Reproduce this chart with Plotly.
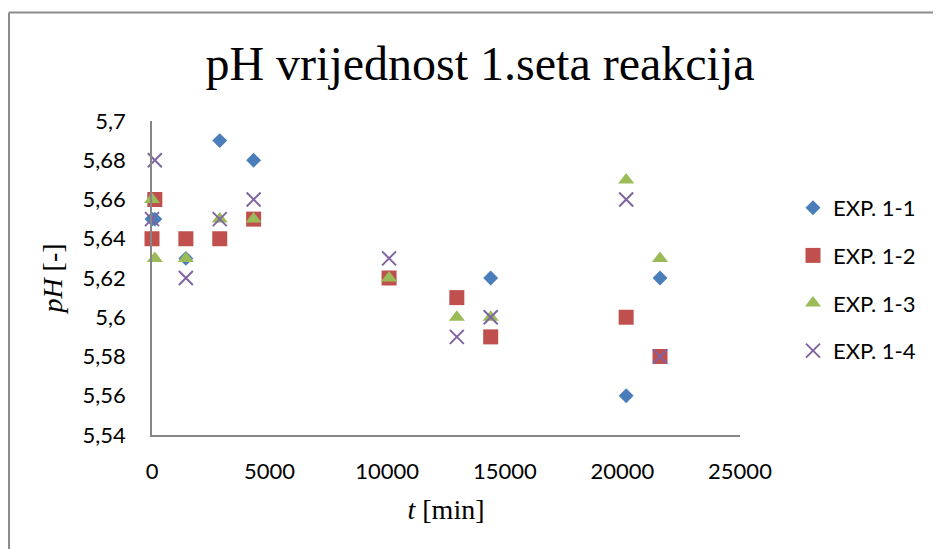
import plotly.graph_objects as go

# ---- data ----
series_names = ["EXP. 1-1", "EXP. 1-2", "EXP. 1-3", "EXP. 1-4"]

exp1_t = [0, 120, 1440, 2880, 4320, 10080, 14400, 20160, 21600]
exp1_ph = [5.65, 5.65, 5.63, 5.69, 5.68, 5.62, 5.62, 5.56, 5.62]

exp2_t = [0, 120, 1440, 2880, 4320, 10080, 12960, 14400, 20160, 21600]
exp2_ph = [5.64, 5.66, 5.64, 5.64, 5.65, 5.62, 5.61, 5.59, 5.60, 5.58]

exp3_t = [0, 120, 1440, 2880, 4320, 10080, 12960, 14400, 20160, 21600]
exp3_ph = [5.66, 5.63, 5.63, 5.65, 5.65, 5.62, 5.60, 5.60, 5.67, 5.63]

exp4_t = [0, 120, 1440, 2880, 4320, 10080, 12960, 14400, 20160, 21600]
exp4_ph = [5.65, 5.68, 5.62, 5.65, 5.66, 5.63, 5.59, 5.60, 5.66, 5.58]

x_tickvals = [0, 5000, 10000, 15000, 20000, 25000]
x_ticktext = ["0", "5000", "10000", "15000", "20000", "25000"]
y_tickvals = [5.54, 5.56, 5.58, 5.60, 5.62, 5.64, 5.66, 5.68, 5.70]
y_ticktext = ["5,54", "5,56", "5,58", "5,6", "5,62", "5,64", "5,66", "5,68", "5,7"]

# ---- layout (page body has an 8px margin; screen px -> figure px) ----
OFF = 8
W, H = 941, 549
L = 152 - OFF
T = 121 - OFF
R = W - (740 - OFF)
B = H - (435 - OFF)
PW, PH = W - L - R, H - T - B

def px_x(sx):
    return (sx - OFF - L) / PW

def px_y(sy):
    return (H - B - (sy - OFF)) / PH

fig = go.Figure()

styles = [
    dict(symbol="diamond", color="#4A7EBB", size=11.5, line=dict(width=0)),
    dict(symbol="square", color="#C0504D", size=15, line=dict(width=0)),
    dict(symbol="triangle-up", color="#9BBB59", size=14, line=dict(width=0)),
    dict(symbol="x-thin", color="#8064A2", size=14, line=dict(width=2, color="#8064A2")),
]
data = [(exp1_t, exp1_ph), (exp2_t, exp2_ph), (exp3_t, exp3_ph), (exp4_t, exp4_ph)]

for i, ((tx, py), name, st) in enumerate(zip(data, series_names, styles)):
    fig.add_trace(go.Scatter(
        x=tx, y=py, mode="markers", name=name, marker=st,
        cliponaxis=False, legendgroup=f"g{i}",
    ))

fig.update_layout(
    width=W, height=H,
    margin=dict(l=L, r=R, t=T, b=B, autoexpand=False),
    paper_bgcolor="white", plot_bgcolor="white",
    title=dict(
        text="pH vrijednost 1.seta reakcija",
        font=dict(family="Liberation Serif", size=48, color="black"),
        x=(480 - OFF) / W, xanchor="center", y=1 - 55 / H, yanchor="middle",
    ),
    font=dict(family="Lato", size=22, color="black"),
    showlegend=True,
    legend=dict(
        x=px_x(793), y=px_y(187), xanchor="left", yanchor="top",
        traceorder="grouped", tracegroupgap=16,
        font=dict(family="Lato", size=22, color="black"),
        bgcolor="rgba(0,0,0,0)",
    ),
    xaxis=dict(
        range=[0, 25000], showline=True, linecolor="#868686", linewidth=1.5,
        showgrid=False, zeroline=False, ticks="",
        tickvals=x_tickvals, ticktext=x_ticktext, ticklabelstandoff=16,
        tickfont=dict(family="Lato", size=22),
        title=dict(text="<i>t</i> [min]", font=dict(family="Liberation Serif", size=28), standoff=16),
    ),
    yaxis=dict(
        range=[5.54, 5.70], showline=True, linecolor="#868686", linewidth=1.5,
        showgrid=False, zeroline=False, ticks="",
        tickvals=y_tickvals, ticktext=y_ticktext, ticklabelstandoff=20,
        tickfont=dict(family="Lato", size=22),
        title=dict(text="<i>pH</i> [-]", font=dict(family="Liberation Serif", size=28), standoff=12),
    ),
    shapes=[
        dict(type="line", xref="paper", yref="paper",
             x0=px_x(9), x1=px_x(9), y0=px_y(12.5), y1=px_y(560),
             line=dict(color="#8c8c8c", width=2)),
        dict(type="line", xref="paper", yref="paper",
             x0=px_x(9), x1=px_x(960), y0=px_y(12.5), y1=px_y(12.5),
             line=dict(color="#8c8c8c", width=2)),
    ],
)

fig.write_html("out.html")
